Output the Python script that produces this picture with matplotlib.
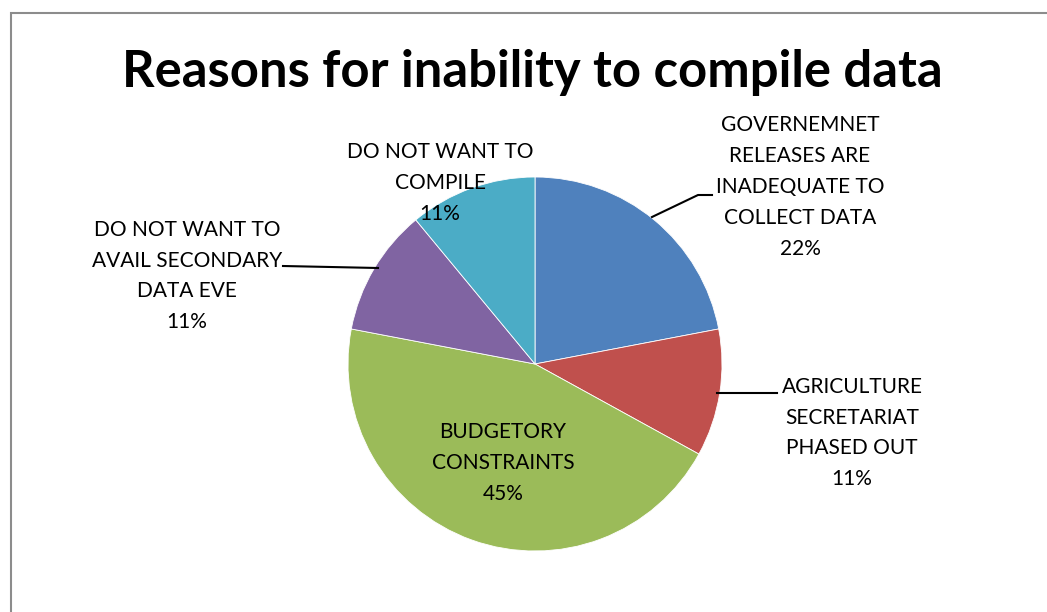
import matplotlib.pyplot as plt
from matplotlib.patches import Rectangle

labels = ["GOVERNEMNET\nRELEASES ARE\nINADEQUATE TO\nCOLLECT DATA",
          "AGRICULTURE\nSECRETARIAT\nPHASED OUT",
          "BUDGETORY\nCONSTRAINTS",
          "DO NOT WANT TO\nAVAIL SECONDARY\nDATA EVE",
          "DO NOT WANT TO\nCOMPILE"]
shares = [22, 11, 45, 11, 11]
colors = ['#4F81BD', '#C0504D', '#9BBB59', '#8064A2', '#4BACC6']

# label centres in pixel coords (x, y from top)
label_pos = [(800, 187), (852, 433), (503, 463), (187, 276), (440, 183)]
# leader lines (pixel coords, y from top)
leaders = [[(652, 217), (698, 195), (712, 195)],
           [(717, 393), (777, 393)],
           None,
           [(283, 266), (378, 268)],
           None]

W, H = 1047, 612
fig = plt.figure(figsize=(W / 100, H / 100), dpi=100)
ax = fig.add_axes([0, 0, 1, 1])
ax.set_aspect('equal')
ax.axis('off')

font = 'Lato'

ax.pie(shares, colors=colors, startangle=90, counterclock=False,
       center=(535, H - 364), radius=187,
       wedgeprops=dict(linewidth=0.6, edgecolor='white'))
ax.set_xlim(0, W)
ax.set_ylim(0, H)

for lab, val, (x, y), ld in zip(labels, shares, label_pos, leaders):
    ax.text(x, H - y, f"{lab}\n{val}%", ha='center', va='center',
            fontsize=15, family=font, linespacing=1.68, color='black')
    if ld:
        ax.plot([p[0] for p in ld], [H - p[1] for p in ld],
                color='black', lw=1.5)

fig.text(532 / W, 1 - 72 / H, "Reasons for inability to compile data",
         ha='center', va='center', fontsize=36.5, fontweight='bold', family=font)

# chart frame (runs past the right and bottom edges)
fig.patches.append(Rectangle((11 / W, -0.1), 1.2, 1 - 13 / H + 0.1,
                             transform=fig.transFigure, fill=False,
                             edgecolor='#8c8c8c', lw=1.5, clip_on=False))

fig.savefig('out.png', dpi=100, facecolor='white')
